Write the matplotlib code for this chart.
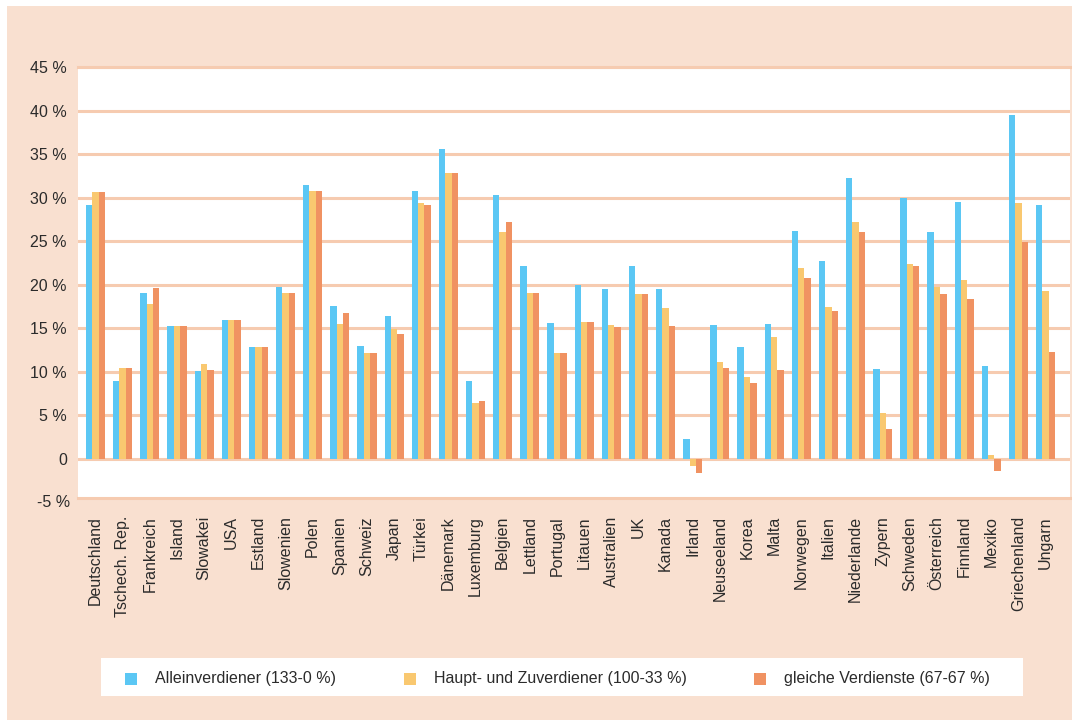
import numpy as np
import matplotlib
matplotlib.use("Agg")
import matplotlib.pyplot as plt
from matplotlib.patches import Rectangle
import matplotlib.transforms as mtransforms

plt.rcParams['font.family'] = ['Liberation Sans', 'DejaVu Sans']

laender = ['Deutschland', 'Tschech. Rep.', 'Frankreich', 'Island', 'Slowakei', 'USA',
           'Estland', 'Slowenien', 'Polen', 'Spanien', 'Schweiz', 'Japan', 'Türkei',
           'Dänemark', 'Luxemburg', 'Belgien', 'Lettland', 'Portugal', 'Litauen',
           'Australien', 'UK', 'Kanada', 'Irland', 'Neuseeland', 'Korea', 'Malta',
           'Norwegen', 'Italien', 'Niederlande', 'Zypern', 'Schweden', 'Österreich',
           'Finnland', 'Mexiko', 'Griechenland', 'Ungarn']

allein = [29.2, 8.9, 19.1, 15.3, 10.1, 16.0, 12.9, 19.8, 31.4, 17.6, 13.0, 16.4, 30.8,
          35.6, 8.9, 30.3, 22.1, 15.6, 20.0, 19.5, 22.1, 19.5, 2.3, 15.4, 12.9, 15.5,
          26.2, 22.7, 32.3, 10.3, 30.0, 26.1, 29.5, 10.7, 39.5, 29.2]
haupt_zu = [30.6, 10.4, 17.8, 15.3, 10.9, 16.0, 12.9, 19.1, 30.8, 15.5, 12.2, 14.9, 29.4,
            32.8, 6.4, 26.1, 19.0, 12.2, 15.75, 15.4, 18.9, 17.3, -0.8, 11.1, 9.4, 14.0,
            21.9, 17.4, 27.2, 5.3, 22.4, 19.7, 20.6, 0.5, 29.4, 19.3]
gleich = [30.6, 10.4, 19.6, 15.3, 10.2, 16.0, 12.9, 19.1, 30.8, 16.8, 12.2, 14.4, 29.1,
          32.8, 6.6, 27.2, 19.0, 12.2, 15.75, 15.2, 18.9, 15.3, -1.6, 10.4, 8.7, 10.2,
          20.8, 17.0, 26.1, 3.4, 22.2, 18.9, 18.4, -1.4, 24.9, 12.3]

legende = ['Alleinverdiener (133-0 %)', 'Haupt- und Zuverdiener (100-33 %)',
           'gleiche Verdienste (67-67 %)']
farben = ['#5BC7F4', '#F9C870', '#F09262']

peach = '#F9E0D0'
grid_c = '#F6CBB0'
text_c = '#2b2b2b'
fs = 11.5

W, H = 1072, 720
fig = plt.figure(figsize=(W / 100, H / 100), dpi=100, facecolor='white')
fig.patches.append(Rectangle((7 / W, 0), 1, 1 - 6 / H, transform=fig.transFigure,
                             facecolor=peach, edgecolor='none', zorder=-5))

ax = fig.add_axes([78 / W, 1 - 498 / H, (1070 - 78) / W, (498 - 67) / H])
ax.set_zorder(2)
ax.set_facecolor('white')

x = np.arange(len(laender))
bw = 0.235
for k, serie in enumerate([allein, haupt_zu, gleich]):
    ax.bar(x + (k - 1) * bw, serie, width=bw, color=farben[k], zorder=3, linewidth=0)

ax.set_xlim(-0.645, 35.9)
ax.set_ylim(-4.48, 45)

yt = list(range(0, 50, 5))
ax.set_yticks(yt)
ax.set_yticklabels([('%d %%' % v) if v else '0' for v in yt], fontsize=fs, color=text_c)
ax.yaxis.grid(True, color=grid_c, linewidth=2.2, zorder=1)
ax.set_axisbelow(True)
# -5 % label sits just below the plot edge
trans = mtransforms.blended_transform_factory(ax.transAxes, ax.transData)
ax.text(-8 / 992, -5, '-5 %', transform=trans, ha='right', va='center',
        fontsize=fs, color=text_c, clip_on=False)

ax.set_xticks(x)
ax.set_xticklabels(laender, rotation=90, fontsize=fs, color=text_c)
ax.tick_params(axis='both', length=0)
ax.tick_params(axis='y', pad=8)
ax.tick_params(axis='x', pad=13)

for s in ['left', 'right']:
    ax.spines[s].set_visible(False)
for s in ['top', 'bottom']:
    ax.spines[s].set_color(grid_c)
    ax.spines[s].set_linewidth(2.2)

# legend box drawn by hand
fig.patches.append(Rectangle((101 / W, 1 - 696 / H), (1023 - 101) / W, 38 / H,
                             transform=fig.transFigure, facecolor='white',
                             edgecolor='none', zorder=1))
box_x = [125, 404, 754]
for k in range(3):
    fig.patches.append(Rectangle((box_x[k] / W, 1 - 685 / H), 12 / W, 12 / H,
                                 transform=fig.transFigure, facecolor=farben[k],
                                 edgecolor='none', zorder=2))
    fig.text((box_x[k] + 30) / W, 1 - 678 / H, legende[k], fontsize=fs,
             color=text_c, va='center', ha='left', zorder=3)

fig.savefig('out.png', dpi=100, facecolor=fig.get_facecolor())
